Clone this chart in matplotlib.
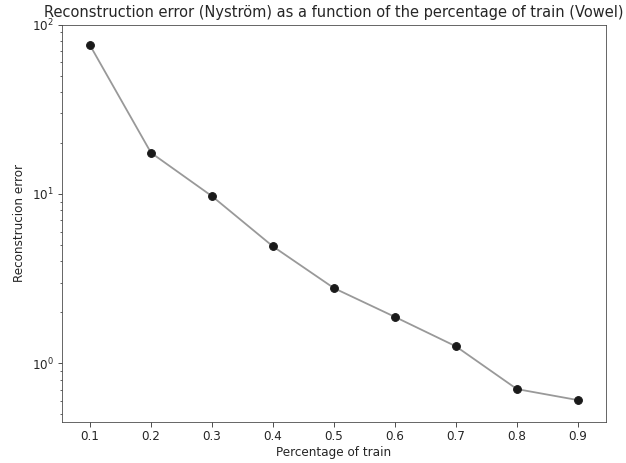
import numpy as np
import matplotlib.pyplot as plt

# train fraction vs reconstruction error
train_pct = [0.1, 0.2, 0.3, 0.4, 0.5, 0.6, 0.7, 0.8, 0.9]
rec_error = [75.4, 17.5, 9.7, 4.9, 2.78, 1.88, 1.26, 0.705, 0.607]

fig = plt.figure(figsize=(626/72., 463/72.), dpi=72)
ax = fig.add_axes([0.099, 0.089, 0.869, 0.858])

ax.plot(train_pct, rec_error, '-', color='#999999', lw=1.8, zorder=1)
ax.plot(train_pct, rec_error, 'o', color='#1a1a1a', ms=7.8, zorder=2)

ax.set_yscale('log')
ax.set_ylim(0.452, 100)
ax.set_xlim(0.054, 0.946)
ax.set_xticks(train_pct)

ax.set_title('Reconstruction error (Nyström) as a function of the percentage of train (Vowel)',
             fontsize=14.6, color='#262626', pad=8)
ax.set_xlabel('Percentage of train', fontsize=12, color='#262626', labelpad=3)
ax.set_ylabel('Reconstrucion error', fontsize=12, color='#262626', labelpad=6)
ax.tick_params(labelsize=12, colors='#262626', length=4.5)
ax.tick_params(which='minor', length=2.5)
for s in ax.spines.values():
    s.set_color('#444444')

fig.savefig('out.png', dpi=72)
